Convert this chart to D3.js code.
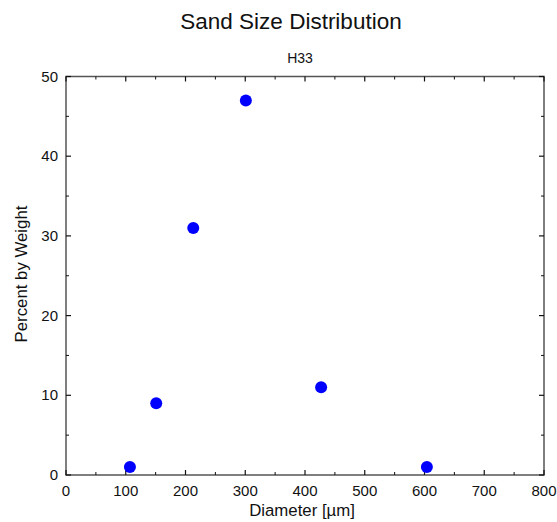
<!DOCTYPE html>
<html>
<head>
<meta charset="utf-8">
<script src="https://cdn.jsdelivr.net/npm/d3@7"></script>
<style>
  body { margin: 0; background: #fff; }
  text { font-family: "Liberation Sans", Arial, sans-serif; }
</style>
</head>
<body>
<div id="chart"></div>
<script>
// data
const diameters = [107, 151, 213, 301, 427, 604];
const percents = [1, 9, 31, 47, 11, 1];
const xTicks = [0, 100, 200, 300, 400, 500, 600, 700, 800];
const yTicks = [0, 10, 20, 30, 40, 50];

const W = 557, H = 522;
const margin = { top: 76.5, right: 13, bottom: 47, left: 66 };
const width = W - margin.left - margin.right,
    height = H - margin.top - margin.bottom;

const svg = d3.select("#chart").append("svg")
    .attr("width", W)
    .attr("height", H);

const g = svg.append("g")
    .attr("transform", "translate(" + margin.left + "," + margin.top + ")");

const x = d3.scaleLinear().domain([0, 800]).range([0, width]);
const y = d3.scaleLinear().domain([0, 50]).range([height, 0]);

const axisColor = "#555";

// frame
g.append("rect")
    .attr("width", width).attr("height", height)
    .attr("fill", "none").attr("stroke", axisColor).attr("stroke-width", 1.5);

// ticks, inward on all four sides
const xMinor = d3.range(50, 800, 100);
const yMinor = d3.range(5, 50, 10);
function ticks(vals, len, sw) {
  vals.forEach(v => {
    g.append("line").attr("x1", x(v)).attr("x2", x(v)).attr("y1", height).attr("y2", height - len)
      .attr("stroke", "#111").attr("stroke-width", sw);
    g.append("line").attr("x1", x(v)).attr("x2", x(v)).attr("y1", 0).attr("y2", len)
      .attr("stroke", "#111").attr("stroke-width", sw);
  });
}
function yticks(vals, len, sw) {
  vals.forEach(v => {
    g.append("line").attr("y1", y(v)).attr("y2", y(v)).attr("x1", 0).attr("x2", len)
      .attr("stroke", "#111").attr("stroke-width", sw);
    g.append("line").attr("y1", y(v)).attr("y2", y(v)).attr("x1", width).attr("x2", width - len)
      .attr("stroke", "#111").attr("stroke-width", sw);
  });
}
ticks(xTicks, 5, 1.2);
ticks(xMinor, 3, 1);
yticks(yTicks, 5, 1.2);
yticks(yMinor, 3, 1);

// tick labels
g.selectAll(".xl").data(xTicks).join("text")
    .attr("x", d => x(d)).attr("y", height + 21)
    .attr("text-anchor", "middle").attr("font-size", 15).attr("fill", "#111")
    .text(d => d);
g.selectAll(".yl").data(yTicks).join("text")
    .attr("x", -8).attr("y", d => y(d) + 5)
    .attr("text-anchor", "end").attr("font-size", 15).attr("fill", "#111")
    .text(d => d);

// points
g.selectAll("circle").data(diameters).join("circle")
    .attr("cx", d => x(d))
    .attr("cy", (d, i) => y(percents[i]))
    .attr("r", 6)
    .attr("fill", "#0000ff");

// titles
svg.append("text").attr("x", 291).attr("y", 29)
    .attr("text-anchor", "middle").attr("font-size", 22.5).attr("fill", "#111")
    .text("Sand Size Distribution");
svg.append("text").attr("x", 300).attr("y", 63)
    .attr("text-anchor", "middle").attr("font-size", 14).attr("fill", "#111")
    .text("H33");
svg.append("text").attr("x", 302).attr("y", 516)
    .attr("text-anchor", "middle").attr("font-size", 16.8).attr("fill", "#111")
    .text("Diameter [µm]");
svg.append("text")
    .attr("transform", "translate(27,274) rotate(-90)")
    .attr("text-anchor", "middle").attr("font-size", 16.8).attr("fill", "#111")
    .text("Percent by Weight");
</script>
</body>
</html>
